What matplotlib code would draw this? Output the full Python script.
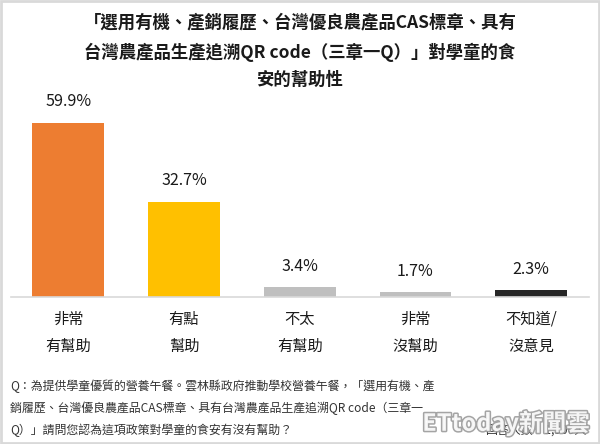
import matplotlib
matplotlib.use("Agg")
import matplotlib.pyplot as plt
import matplotlib.patheffects as pe
from matplotlib.patches import Rectangle

plt.rcParams['font.family'] = ['Noto Sans CJK TC', 'DejaVu Sans']

categories = ["非常\n有幫助", "有點\n幫助", "不太\n有幫助", "非常\n沒幫助", "不知道/\n沒意見"]
values = [59.9, 32.7, 3.4, 1.7, 2.3]
colors = ["#ED7D31", "#FFC000", "#BFBFBF", "#BFBFBF", "#262626"]
title_lines = ["「選用有機、產銷履歷、台灣優良農產品CAS標章、具有",
               "台灣農產品生產追溯QR code（三章一Q）」對學童的食",
               "安的幫助性"]
note_lines = ["Q：為提供學童優質的營養午餐。雲林縣政府推動學校營養午餐，「選用有機、產",
              "銷履歷、台灣優良農產品CAS標章、具有台灣農產品生產追溯QR code（三章一",
              "Q）」請問您認為這項政策對學童的食安有沒有幫助？"]

W, H = 600, 444
fig = plt.figure(figsize=(W/100, H/100), dpi=100)
fig.patch.set_facecolor("white")

ax = fig.add_axes([10.5/W, 1-297/H, 578.5/W, 203.4/H])
x = list(range(len(values)))
bars = ax.bar(x, values, width=0.62, color=colors)
ax.set_ylim(0, 70)
ax.set_xlim(-0.5, len(values)-0.5)
for s in ["top", "left", "right"]:
    ax.spines[s].set_visible(False)
ax.spines["bottom"].set_color("#D9D9D9")
ax.spines["bottom"].set_linewidth(1.2)
ax.set_yticks([])
ax.set_xticks(x)
ax.set_xticklabels(categories, fontsize=11, linespacing=1.75, color="#1a1a1a")
ax.tick_params(axis="x", length=0, pad=10)
for xi, v in zip(x, values):
    ax.annotate(f"{v}%", (xi, v), xytext=(0, 9), textcoords="offset points",
                ha="center", va="bottom", fontsize=11.5, color="#1a1a1a")

for i, (t, yy) in enumerate(zip(title_lines, [22, 52, 80])):
    fig.text(0.5, 1-yy/H, t, ha="center", va="center", fontsize=12.5,
             fontweight="bold", color="#1a1a1a")

for t, yy in zip(note_lines, [386, 408, 430]):
    fig.text(10/W, 1-yy/H, t, ha="left", va="center", fontsize=8.6, color="#333333")

fig.text(586/W, 1-430/H, "回答人數：1,300人", ha="right", va="center",
         fontsize=8.6, color="#333333")
fig.text(590/W, 1-423/H, "ETtoday新聞雲", ha="right", va="center", fontsize=17,
         fontweight="bold", color="white", alpha=0.9,
         path_effects=[pe.withStroke(linewidth=2.2, foreground="#9a9a9a")])

fig.patches.append(Rectangle((0.0015, 0.002), 0.997, 0.996, transform=fig.transFigure,
                             fill=False, edgecolor="#D9D9D9", linewidth=2))

fig.savefig("out.png", dpi=100, facecolor="white")
